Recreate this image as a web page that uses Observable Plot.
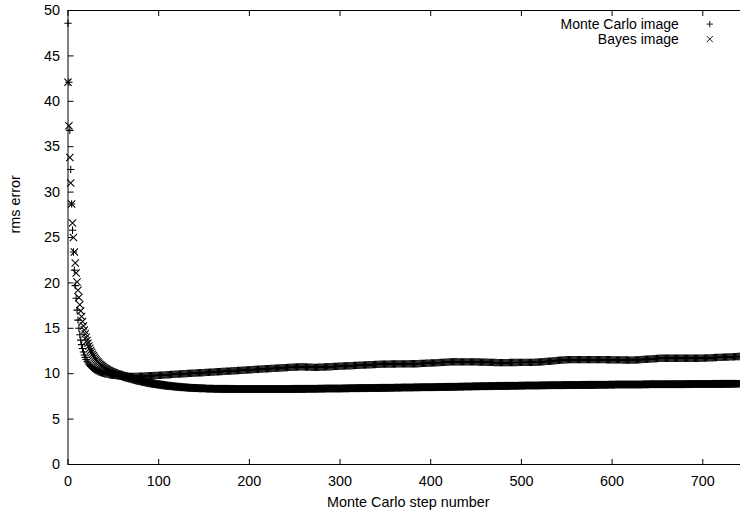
<!DOCTYPE html>
<html>
<head>
<meta charset="utf-8">
<script src="https://cdn.jsdelivr.net/npm/d3@7"></script>
<script src="https://cdn.jsdelivr.net/npm/@observablehq/plot@0.6"></script>
<style>
  html, body { margin: 0; padding: 0; background: #fff; overflow: hidden; }
  #chart svg { display: block; }
</style>
</head>
<body>
<div id="chart"></div>
<script>
// Axis ticks and text
const xTicks = [0, 100, 200, 300, 400, 500, 600, 700];
const yTicks = [0, 5, 10, 15, 20, 25, 30, 35, 40, 45, 50];
const xLabel = "Monte Carlo step number";
const yLabel = "rms error";
const seriesNames = ["Monte Carlo image", "Bayes image"];

// rms error of the Monte Carlo image, one value per step (step = index)
const monteCarlo = [
  48.6,42.1,36.8,32.5,28.7,25.8,23.4,21.4,19.7,18.3,
  17.0,15.9,15.0,14.3,13.7,13.2,12.78,12.4,12.07,11.8,
  11.57,11.37,11.2,11.05,10.92,10.8,10.7,10.61,10.53,10.46,
  10.4,10.34,10.29,10.24,10.2,10.16,10.12,10.09,10.06,10.03,
  10.0,9.98,9.96,9.94,9.92,9.9,9.88,9.86,9.85,9.83,
  9.82,9.81,9.8,9.79,9.78,9.77,9.76,9.75,9.74,9.73,
  9.72,9.72,9.71,9.71,9.7,9.7,9.7,9.7,9.7,9.7,
  9.7,9.7,9.7,9.7,9.7,9.71,9.71,9.71,9.72,9.72,
  9.72,9.73,9.73,9.74,9.74,9.75,9.75,9.76,9.76,9.77,
  9.77,9.78,9.78,9.79,9.79,9.8,9.8,9.81,9.81,9.82,
  9.82,9.83,9.83,9.84,9.85,9.85,9.86,9.87,9.87,9.88,
  9.89,9.89,9.9,9.91,9.91,9.92,9.93,9.93,9.94,9.95,
  9.95,9.96,9.96,9.97,9.98,9.98,9.99,9.99,10.0,10.01,
  10.01,10.02,10.02,10.03,10.04,10.04,10.05,10.05,10.06,10.07,
  10.07,10.08,10.08,10.09,10.09,10.1,10.1,10.11,10.11,10.12,
  10.12,10.13,10.14,10.14,10.15,10.15,10.16,10.17,10.17,10.18,
  10.18,10.19,10.2,10.2,10.21,10.21,10.22,10.23,10.23,10.24,
  10.24,10.25,10.26,10.26,10.27,10.27,10.28,10.29,10.29,10.3,
  10.3,10.31,10.31,10.32,10.33,10.33,10.34,10.35,10.35,10.36,
  10.37,10.37,10.38,10.38,10.39,10.4,10.4,10.41,10.42,10.42,
  10.43,10.44,10.44,10.45,10.45,10.46,10.47,10.47,10.48,10.49,
  10.49,10.5,10.51,10.51,10.52,10.52,10.53,10.54,10.54,10.55,
  10.55,10.56,10.56,10.57,10.57,10.58,10.59,10.59,10.6,10.6,
  10.61,10.62,10.62,10.63,10.63,10.64,10.64,10.65,10.66,10.66,
  10.67,10.67,10.68,10.69,10.69,10.7,10.7,10.71,10.71,10.72,
  10.73,10.73,10.74,10.74,10.75,10.75,10.75,10.76,10.76,10.76,
  10.75,10.75,10.74,10.74,10.73,10.73,10.72,10.72,10.71,10.71,
  10.7,10.7,10.7,10.7,10.7,10.7,10.71,10.71,10.72,10.72,
  10.73,10.73,10.74,10.74,10.75,10.75,10.76,10.76,10.77,10.77,
  10.78,10.78,10.79,10.79,10.8,10.8,10.81,10.81,10.82,10.82,
  10.83,10.83,10.84,10.84,10.85,10.85,10.86,10.86,10.87,10.87,
  10.88,10.88,10.88,10.89,10.89,10.9,10.9,10.91,10.91,10.92,
  10.92,10.93,10.93,10.94,10.94,10.95,10.95,10.96,10.96,10.97,
  10.97,10.98,10.98,10.99,10.99,11.0,11.0,11.0,11.01,11.01,
  11.02,11.02,11.03,11.03,11.04,11.04,11.05,11.05,11.05,11.05,
  11.05,11.06,11.06,11.06,11.06,11.06,11.07,11.07,11.07,11.07,
  11.07,11.07,11.08,11.08,11.08,11.08,11.08,11.08,11.08,11.09,
  11.09,11.09,11.09,11.09,11.09,11.09,11.1,11.1,11.1,11.1,
  11.1,11.1,11.1,11.1,11.1,11.1,11.11,11.11,11.12,11.12,
  11.13,11.13,11.14,11.14,11.15,11.15,11.16,11.16,11.17,11.17,
  11.18,11.18,11.19,11.19,11.2,11.2,11.21,11.21,11.22,11.22,
  11.23,11.23,11.24,11.24,11.25,11.25,11.26,11.26,11.27,11.28,
  11.29,11.3,11.3,11.31,11.31,11.32,11.32,11.32,11.32,11.32,
  11.31,11.31,11.31,11.31,11.3,11.3,11.3,11.3,11.3,11.3,
  11.3,11.3,11.3,11.3,11.3,11.3,11.3,11.3,11.3,11.3,
  11.3,11.3,11.29,11.29,11.29,11.28,11.28,11.28,11.27,11.27,
  11.27,11.26,11.26,11.26,11.25,11.25,11.25,11.24,11.24,11.24,
  11.23,11.23,11.23,11.22,11.22,11.22,11.22,11.22,11.22,11.22,
  11.22,11.22,11.22,11.22,11.22,11.22,11.22,11.23,11.23,11.23,
  11.23,11.23,11.23,11.23,11.23,11.23,11.24,11.24,11.24,11.24,
  11.24,11.24,11.24,11.24,11.24,11.25,11.25,11.25,11.25,11.25,
  11.25,11.25,11.25,11.25,11.25,11.26,11.26,11.27,11.28,11.29,
  11.29,11.3,11.31,11.32,11.32,11.33,11.34,11.35,11.35,11.36,
  11.37,11.37,11.38,11.39,11.4,11.41,11.42,11.43,11.44,11.45,
  11.46,11.47,11.48,11.49,11.5,11.5,11.51,11.52,11.53,11.54,
  11.54,11.55,11.55,11.55,11.55,11.55,11.55,11.55,11.55,11.55,
  11.55,11.55,11.55,11.55,11.55,11.55,11.55,11.55,11.55,11.55,
  11.55,11.55,11.55,11.55,11.55,11.55,11.55,11.55,11.55,11.55,
  11.55,11.55,11.55,11.55,11.55,11.55,11.55,11.55,11.55,11.55,
  11.55,11.55,11.55,11.55,11.54,11.54,11.54,11.54,11.54,11.54,
  11.53,11.53,11.53,11.53,11.53,11.53,11.52,11.52,11.52,11.52,
  11.52,11.52,11.51,11.51,11.51,11.51,11.51,11.51,11.5,11.5,
  11.5,11.5,11.5,11.5,11.5,11.51,11.51,11.52,11.53,11.53,
  11.54,11.55,11.55,11.56,11.57,11.57,11.58,11.59,11.59,11.6,
  11.61,11.61,11.62,11.63,11.63,11.64,11.65,11.65,11.66,11.67,
  11.67,11.68,11.69,11.7,11.7,11.7,11.7,11.7,11.7,11.7,
  11.7,11.7,11.7,11.7,11.7,11.7,11.7,11.7,11.7,11.7,
  11.7,11.7,11.7,11.7,11.7,11.7,11.7,11.7,11.7,11.7,
  11.7,11.7,11.7,11.7,11.7,11.7,11.7,11.7,11.7,11.7,
  11.7,11.7,11.7,11.7,11.7,11.7,11.7,11.7,11.7,11.71,
  11.71,11.72,11.72,11.73,11.73,11.74,11.74,11.75,11.75,11.75,
  11.76,11.76,11.77,11.77,11.78,11.78,11.79,11.79,11.8,11.8,
  11.8,11.81,11.81,11.82,11.82,11.83,11.83,11.84,11.84,11.85,
  11.85,11.85,11.86,11.86,11.87,11.87,11.88,11.88,11.89,11.89,
  11.9,11.9
];

// rms error of the Bayes image, one value per step (step = index)
const bayes = [
  42.1,37.3,33.8,31.0,28.7,26.6,25.0,23.4,22.2,21.1,
  20.1,19.2,18.4,17.6,16.9,16.3,15.75,15.25,14.8,14.4,
  14.0,13.65,13.35,13.05,12.8,12.55,12.35,12.15,11.97,11.8,
  11.65,11.51,11.38,11.26,11.15,11.05,10.96,10.87,10.79,10.71,
  10.64,10.57,10.51,10.45,10.39,10.34,10.29,10.24,10.19,10.15,
  10.11,10.07,10.03,9.99,9.96,9.93,9.9,9.87,9.84,9.81,
  9.78,9.75,9.72,9.68,9.65,9.62,9.59,9.56,9.53,9.5,
  9.47,9.44,9.41,9.38,9.36,9.33,9.3,9.28,9.25,9.23,
  9.2,9.18,9.16,9.13,9.11,9.09,9.07,9.05,9.03,9.01,
  8.99,8.97,8.95,8.93,8.92,8.9,8.88,8.86,8.85,8.83,
  8.82,8.8,8.79,8.77,8.76,8.74,8.73,8.71,8.7,8.69,
  8.67,8.66,8.65,8.64,8.63,8.62,8.61,8.6,8.59,8.58,
  8.57,8.56,8.55,8.54,8.53,8.52,8.52,8.51,8.5,8.49,
  8.48,8.48,8.47,8.46,8.46,8.45,8.44,8.44,8.43,8.43,
  8.42,8.42,8.41,8.41,8.4,8.4,8.39,8.39,8.38,8.38,
  8.38,8.37,8.37,8.37,8.36,8.36,8.36,8.35,8.35,8.35,
  8.35,8.34,8.34,8.34,8.34,8.34,8.33,8.33,8.33,8.33,
  8.33,8.33,8.33,8.33,8.33,8.33,8.33,8.33,8.33,8.33,
  8.32,8.32,8.32,8.32,8.32,8.32,8.32,8.32,8.32,8.32,
  8.32,8.32,8.32,8.32,8.32,8.32,8.32,8.32,8.32,8.32,
  8.31,8.31,8.31,8.31,8.31,8.31,8.31,8.31,8.31,8.31,
  8.31,8.31,8.31,8.31,8.31,8.31,8.31,8.31,8.31,8.31,
  8.31,8.31,8.31,8.31,8.31,8.31,8.31,8.31,8.31,8.31,
  8.32,8.32,8.32,8.32,8.32,8.32,8.32,8.32,8.32,8.32,
  8.32,8.32,8.32,8.32,8.32,8.32,8.32,8.32,8.32,8.32,
  8.33,8.33,8.33,8.33,8.33,8.33,8.33,8.33,8.33,8.33,
  8.34,8.34,8.34,8.34,8.34,8.34,8.34,8.34,8.34,8.34,
  8.35,8.35,8.35,8.35,8.35,8.35,8.35,8.35,8.35,8.35,
  8.36,8.36,8.36,8.36,8.36,8.36,8.36,8.36,8.36,8.36,
  8.37,8.37,8.37,8.37,8.37,8.37,8.37,8.37,8.37,8.37,
  8.38,8.38,8.38,8.38,8.38,8.38,8.38,8.39,8.39,8.39,
  8.39,8.39,8.39,8.39,8.4,8.4,8.4,8.4,8.4,8.4,
  8.4,8.41,8.41,8.41,8.41,8.41,8.41,8.41,8.42,8.42,
  8.42,8.42,8.42,8.42,8.42,8.43,8.43,8.43,8.43,8.43,
  8.43,8.43,8.44,8.44,8.44,8.44,8.44,8.44,8.44,8.44,
  8.45,8.45,8.45,8.45,8.45,8.45,8.45,8.46,8.46,8.46,
  8.46,8.46,8.46,8.46,8.47,8.47,8.47,8.47,8.47,8.47,
  8.47,8.48,8.48,8.48,8.48,8.48,8.48,8.48,8.49,8.49,
  8.49,8.49,8.49,8.49,8.49,8.5,8.5,8.5,8.5,8.5,
  8.5,8.5,8.51,8.51,8.51,8.51,8.51,8.51,8.51,8.51,
  8.52,8.52,8.52,8.52,8.52,8.52,8.53,8.53,8.53,8.53,
  8.53,8.53,8.54,8.54,8.54,8.54,8.54,8.55,8.55,8.55,
  8.55,8.55,8.55,8.56,8.56,8.56,8.56,8.56,8.57,8.57,
  8.57,8.57,8.57,8.57,8.58,8.58,8.58,8.58,8.58,8.59,
  8.59,8.59,8.59,8.59,8.59,8.6,8.6,8.6,8.6,8.6,
  8.61,8.61,8.61,8.61,8.61,8.61,8.62,8.62,8.62,8.62,
  8.62,8.63,8.63,8.63,8.63,8.63,8.63,8.64,8.64,8.64,
  8.64,8.64,8.65,8.65,8.65,8.65,8.65,8.66,8.66,8.66,
  8.66,8.66,8.66,8.66,8.66,8.67,8.67,8.67,8.67,8.67,
  8.67,8.67,8.67,8.68,8.68,8.68,8.68,8.68,8.68,8.68,
  8.68,8.69,8.69,8.69,8.69,8.69,8.69,8.69,8.69,8.7,
  8.7,8.7,8.7,8.7,8.7,8.7,8.7,8.71,8.71,8.71,
  8.71,8.71,8.71,8.71,8.71,8.72,8.72,8.72,8.72,8.72,
  8.72,8.72,8.72,8.73,8.73,8.73,8.73,8.73,8.73,8.73,
  8.73,8.74,8.74,8.74,8.74,8.74,8.74,8.74,8.74,8.74,
  8.75,8.75,8.75,8.75,8.75,8.75,8.75,8.75,8.75,8.75,
  8.76,8.76,8.76,8.76,8.76,8.76,8.76,8.76,8.76,8.76,
  8.77,8.77,8.77,8.77,8.77,8.77,8.77,8.77,8.77,8.77,
  8.78,8.78,8.78,8.78,8.78,8.78,8.78,8.78,8.78,8.78,
  8.79,8.79,8.79,8.79,8.79,8.79,8.79,8.79,8.79,8.79,
  8.8,8.8,8.8,8.8,8.8,8.8,8.8,8.8,8.8,8.8,
  8.8,8.8,8.81,8.81,8.81,8.81,8.81,8.81,8.81,8.81,
  8.81,8.81,8.81,8.81,8.81,8.82,8.82,8.82,8.82,8.82,
  8.82,8.82,8.82,8.82,8.82,8.82,8.82,8.82,8.83,8.83,
  8.83,8.83,8.83,8.83,8.83,8.83,8.83,8.83,8.83,8.83,
  8.84,8.84,8.84,8.84,8.84,8.84,8.84,8.84,8.84,8.84,
  8.84,8.84,8.84,8.84,8.84,8.84,8.84,8.85,8.85,8.85,
  8.85,8.85,8.85,8.85,8.85,8.85,8.85,8.85,8.85,8.85,
  8.85,8.85,8.85,8.85,8.86,8.86,8.86,8.86,8.86,8.86,
  8.86,8.86,8.86,8.86,8.86,8.86,8.86,8.86,8.86,8.86,
  8.87,8.87,8.87,8.87,8.87,8.87,8.87,8.87,8.87,8.87,
  8.87,8.87,8.87,8.87,8.88,8.88,8.88,8.88,8.88,8.88,
  8.88,8.88,8.88,8.88,8.88,8.88,8.88,8.88,8.89,8.89,
  8.89,8.89,8.89,8.89,8.89,8.89,8.89,8.89,8.9,8.9,
  8.9,8.9
];

const mcPoints = monteCarlo.map((err, step) => ({step, err}));
const bayesPoints = bayes.map((err, step) => ({step, err}));

// Short inward tick strokes, drawn as custom dot symbols
const tickLen = 5.5;
const tickUp = {draw(ctx) { ctx.moveTo(0, 0); ctx.lineTo(0, -tickLen); }};
const tickDown = {draw(ctx) { ctx.moveTo(0, 0); ctx.lineTo(0, tickLen); }};
const tickRight = {draw(ctx) { ctx.moveTo(0, 0); ctx.lineTo(tickLen, 0); }};

const font = "'Liberation Sans', Arial, Helvetica, sans-serif";
const fs = 14.4;
const keyFs = 14;
const markStroke = 1.05;
const plusR = 2.5;
const timesR = 3.4;

const chart = Plot.plot({
  width: 740,
  height: 513,
  marginLeft: 67.5,
  marginRight: 0,
  marginTop: 10,
  marginBottom: 49,
  style: {fontFamily: font, fontSize: fs + "px", color: "#000", background: "#fff", overflow: "hidden"},
  x: {domain: [0, 741.6]},
  y: {domain: [yTicks[0], yTicks[yTicks.length - 1]]},
  marks: [
    // frame: bottom, top and left edges
    Plot.ruleY([yTicks[0], yTicks[yTicks.length - 1]], {stroke: "#000", strokeWidth: 1}),
    Plot.ruleX([xTicks[0]], {stroke: "#000", strokeWidth: 1}),
    // inward ticks
    Plot.dot(xTicks, {x: d => d, frameAnchor: "bottom", symbol: tickUp, fill: "none", stroke: "#000", strokeWidth: 1}),
    Plot.dot(xTicks, {x: d => d, frameAnchor: "top", symbol: tickDown, fill: "none", stroke: "#000", strokeWidth: 1}),
    Plot.dot(yTicks, {y: d => d, frameAnchor: "left", symbol: tickRight, fill: "none", stroke: "#000", strokeWidth: 1}),
    // tick labels
    Plot.axisX({ticks: xTicks, tickSize: 0, tickPadding: 11, label: null, fontSize: fs}),
    Plot.axisY({ticks: yTicks, tickSize: 0, tickPadding: 8, label: null, fontSize: fs}),
    // axis titles
    Plot.text([xLabel], {text: d => d, frameAnchor: "bottom", dx: 4, dy: 38, lineAnchor: "middle", fontSize: fs, fill: "#000"}),
    Plot.text([yLabel], {text: d => d, frameAnchor: "left", rotate: -90, dx: -52.5, dy: -4, lineAnchor: "middle", fontSize: fs, fill: "#000"}),
    // data
    Plot.dot(mcPoints, {x: "step", y: "err", symbol: "plus", r: plusR, fill: "none", stroke: "#000", strokeWidth: markStroke}),
    Plot.dot(bayesPoints, {x: "step", y: "err", symbol: "times", r: timesR, fill: "none", stroke: "#000", strokeWidth: markStroke}),
    // key
    Plot.text([seriesNames[0]], {text: d => d, frameAnchor: "top-right", dx: -61.7, dy: 13.6, textAnchor: "end", lineAnchor: "middle", fontSize: keyFs, fill: "#000"}),
    Plot.text([seriesNames[1]], {text: d => d, frameAnchor: "top-right", dx: -61.7, dy: 28.6, textAnchor: "end", lineAnchor: "middle", fontSize: keyFs, fill: "#000"}),
    Plot.dot([seriesNames[0]], {frameAnchor: "top-right", dx: -30.7, dy: 13.6, symbol: "plus", r: 2.2, fill: "none", stroke: "#000", strokeWidth: 0.9}),
    Plot.dot([seriesNames[1]], {frameAnchor: "top-right", dx: -30.7, dy: 28.6, symbol: "times", r: 2.9, fill: "none", stroke: "#000", strokeWidth: 0.9})
  ]
});

document.getElementById("chart").appendChild(chart);
</script>
</body>
</html>
